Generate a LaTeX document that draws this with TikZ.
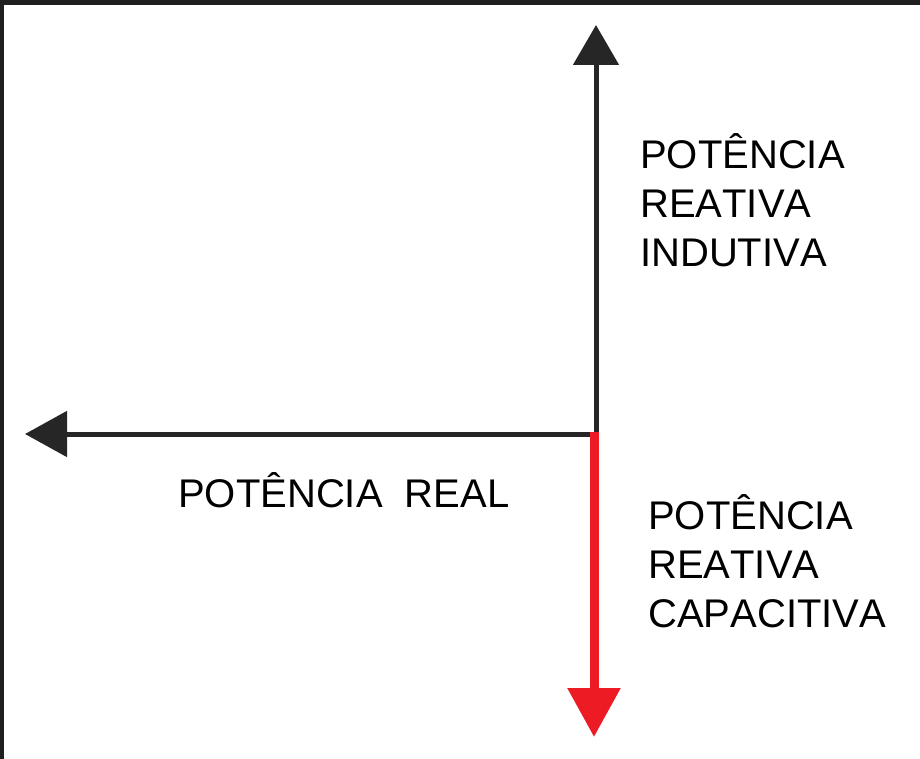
\documentclass[tikz,border=0pt]{standalone}
\usepackage{fontspec}
\setmainfont[Kerning=Off]{Liberation Sans}
\usetikzlibrary{arrows.meta}
\definecolor{capred}{RGB}{237,28,36}
\tikzset{
  axislabel/.style={anchor=base west, inner sep=0pt, align=left,
    font=\fontsize{40}{49}\selectfont},
  axisline/.style={draw=black!85, line width=5pt},
}

\begin{document}
\begin{tikzpicture}[x=1pt,y=-1pt]
  % frame
  \fill[black!88] (0,0) rectangle (920,759);
  \fill[white] (4,5) rectangle (920,759);
  \useasboundingbox (0,0) rectangle (920,759);
  % axes
  \coordinate (origin) at (596,434);
  \coordinate (indtip) at (596,25);
  \coordinate (realtip) at (25,434);
  \coordinate (capstart) at (594,432);
  \coordinate (captip) at (594,737);
  \draw[axisline, -{Triangle[width=45pt, length=40pt]}] (origin) -- (indtip);
  \draw[axisline, -{Triangle[width=45pt, length=42pt]}] (origin) -- (realtip);
  \draw[draw=capred, line width=9pt, -{Triangle[width=51pt, length=49pt]}] (capstart) -- (captip);
  % labels (base = last line)
  \node[axislabel] (indutiva) at (640,266) {POTÊNCIA\\REATIVA\\INDUTIVA};
  \node[axislabel] (real) at (178,507) {POTÊNCIA\ \ REAL};
  \node[axislabel] (capacitiva) at (648,627) {POTÊNCIA\\REATIVA\\CAPACITIVA};
\end{tikzpicture}
\end{document}
